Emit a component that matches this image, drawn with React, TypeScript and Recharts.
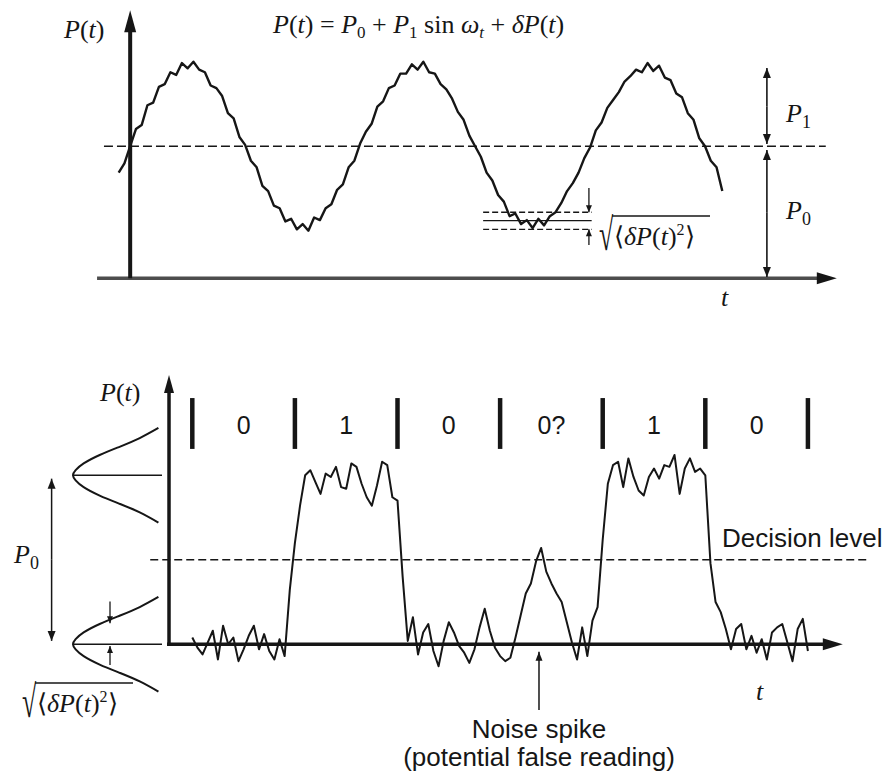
import React from 'react';
import { LineChart, Line, XAxis, YAxis, ReferenceLine, ReferenceDot } from 'recharts';

const INK = '#161616';
const SERIF = '"Liberation Serif", "Times New Roman", serif';
const SANS = '"Liberation Sans", Arial, sans-serif';

// ---- top panel: t in tenths of an oscillation period, P in units of P0
const SINE_START = -0.5;
const SINE_STEP = 0.25;
const SINE_P = [
  0.8, 0.87, 1.0, 1.13, 1.16, 1.31, 1.33, 1.45, 1.47, 1.56,
  1.54, 1.63, 1.59, 1.64, 1.58, 1.56, 1.46, 1.44, 1.38, 1.25,
  1.21, 1.07, 1.01, 0.89, 0.84, 0.7, 0.66, 0.55, 0.53, 0.43,
  0.45, 0.37, 0.41, 0.36, 0.46, 0.44, 0.53, 0.56, 0.67, 0.71,
  0.84, 0.89, 1.02, 1.11, 1.17, 1.3, 1.34, 1.44, 1.46, 1.55,
  1.55, 1.62, 1.58, 1.64, 1.56, 1.55, 1.47, 1.43, 1.36, 1.26,
  1.2, 1.08, 1.0, 0.92, 0.8, 0.74, 0.63, 0.58, 0.47, 0.49,
  0.41, 0.44, 0.38, 0.45, 0.4, 0.47, 0.5, 0.57, 0.66, 0.72,
  0.8, 0.91, 0.99, 1.12, 1.18, 1.29, 1.35, 1.41, 1.49, 1.53,
  1.58, 1.56, 1.63, 1.57, 1.61, 1.52, 1.5, 1.4, 1.37, 1.25,
  1.2, 1.06, 1.0, 0.89, 0.84, 0.66,
];
const MEAN_LEVEL = 1;
const BAND_LOW = 0.37;
const BAND_MID = 0.436;
const BAND_HIGH = 0.5;

// ---- bottom panel: t in bit slots, P in units of P0
const BIT_STEP = 0.05;
const BIT_P = [
  0.04, -0.02, -0.06, 0.01, 0.08, -0.09, 0.11, 0.0, 0.04, -0.1,
  -0.03, 0.05, 0.11, -0.03, 0.06, -0.04, -0.09, 0.03, -0.07, 0.32,
  0.6, 0.82, 1.0, 1.03, 0.96, 0.89, 1.01, 0.99, 1.05, 0.93,
  0.92, 1.07, 1.05, 0.95, 0.87, 0.82, 0.94, 1.08, 1.06, 0.87,
  0.85, 0.4, 0.02, 0.16, -0.06, 0.07, 0.12, -0.04, -0.13, 0.02,
  0.13, 0.07, -0.01, -0.05, -0.11, -0.03, 0.1, 0.21, 0.08, -0.02,
  -0.07, -0.1, -0.08, 0.04, 0.17, 0.3, 0.36, 0.49, 0.57, 0.43,
  0.36, 0.3, 0.25, 0.13, 0.01, -0.09, 0.1, -0.07, 0.14, 0.22,
  0.62, 0.95, 1.06, 1.08, 0.93, 1.1, 0.99, 0.91, 0.88, 0.99,
  1.04, 0.98, 1.06, 1.05, 1.12, 0.89, 1.04, 1.1, 1.02, 1.04,
  1.0, 0.48, 0.25, 0.19, 0.09, -0.03, 0.09, 0.12, -0.03, 0.05,
  -0.05, 0.03, -0.09, 0.07, 0.1, 0.12, 0.01, -0.1, 0.09, 0.15,
  -0.04,
];
const BIT_EDGES = [0, 1, 2, 3, 4, 5, 6];
const BIT_LABELS = ['0', '1', '0', '0?', '1', '0'];
const DECISION_LEVEL = 0.5;
const HIGH_LEVEL = 1;
const LOW_LEVEL = 0;
const GAUSS_OFFSET = [0.28, 0.22, 0.17, 0.12, 0.07, 0.03, 0, -0.03, -0.07, -0.12, -0.17, -0.22, -0.28];
const GAUSS_DENSITY = [0.04, 0.25, 0.47, 0.7, 0.88, 0.97, 1, 0.97, 0.88, 0.7, 0.47, 0.25, 0.04];

const sineData = SINE_P.map((p, i) => ({ t: SINE_START + i * SINE_STEP, p }));
const bitData = BIT_P.map((p, i) => ({ t: i * BIT_STEP, p }));
const gaussAt = (level: number) => GAUSS_OFFSET.map((o, i) => ({ d: GAUSS_DENSITY[i], p: level + o }));

type Dir = 'up' | 'down' | 'left' | 'right';

function arrowHead(dir: Dir, len: number, half: number) {
  return function ArrowHeadShape(props: any) {
    const { cx, cy } = props;
    let pts: number[][];
    if (dir === 'up') pts = [[cx, cy], [cx - half, cy + len], [cx + half, cy + len]];
    else if (dir === 'down') pts = [[cx, cy], [cx - half, cy - len], [cx + half, cy - len]];
    else if (dir === 'right') pts = [[cx, cy], [cx - len, cy - half], [cx - len, cy + half]];
    else pts = [[cx, cy], [cx + len, cy - half], [cx + len, cy + half]];
    return <polygon points={pts.map((p) => p.join(',')).join(' ')} fill={INK} />;
  };
}

// vertical arrow drawn with a reference segment and a head dot
function vArrow(key: string, x: number, from: number, tip: number, width = 1.5, len = 9, half = 3.5) {
  const dir: Dir = tip > from ? 'up' : 'down';
  return [
    <ReferenceLine key={key + '-l'} segment={[{ x, y: from }, { x, y: tip }]} stroke={INK} strokeWidth={width} />,
    <ReferenceDot key={key + '-h'} x={x} y={tip} r={1} shape={arrowHead(dir, len, half)} />,
  ];
}

function bitLabel(text: string) {
  return function BitLabelShape(props: any) {
    return (
      <text x={props.cx} y={props.cy + 9} textAnchor="middle" fontFamily={SANS} fontSize={25} fill={INK}>
        {text}
      </text>
    );
  };
}

const noMargin = { top: 0, right: 0, bottom: 0, left: 0 };

function TopPanel() {
  return (
    <div style={{ position: 'absolute', left: 6, top: 1 }}>
      <LineChart width={883} height={330} margin={noMargin}>
        <XAxis type="number" dataKey="t" domain={[-5.4, 33]} allowDataOverflow hide />
        <YAxis type="number" domain={[-0.4, 2.1]} allowDataOverflow hide />
        <ReferenceLine segment={[{ x: -1.44, y: 0 }, { x: 30.1, y: 0 }]} stroke="#4d4d4d" strokeWidth={3.5} />
        <ReferenceDot x={30.73} y={0} r={1} shape={arrowHead('right', 20, 6)} />
        <ReferenceLine segment={[{ x: 0, y: 0 }, { x: 0, y: 1.9 }]} stroke={INK} strokeWidth={4} />
        <ReferenceDot x={0} y={2.03} r={1} shape={arrowHead('up', 22, 6)} />
        <ReferenceLine segment={[{ x: -1.14, y: MEAN_LEVEL }, { x: 30.25, y: MEAN_LEVEL }]} stroke={INK} strokeWidth={1.6} strokeDasharray="9 4" />
        <ReferenceLine segment={[{ x: 15.35, y: BAND_HIGH }, { x: 20.07, y: BAND_HIGH }]} stroke={INK} strokeWidth={1.4} strokeDasharray="6 3" />
        <ReferenceLine segment={[{ x: 15.35, y: BAND_MID }, { x: 20.07, y: BAND_MID }]} stroke={INK} strokeWidth={1.4} />
        <ReferenceLine segment={[{ x: 15.35, y: BAND_LOW }, { x: 20.07, y: BAND_LOW }]} stroke={INK} strokeWidth={1.4} strokeDasharray="6 3" />
        {vArrow('band-d', 19.95, 0.683, BAND_HIGH, 1.3, 7, 3)}
        {vArrow('band-u', 19.95, 0.252, BAND_LOW, 1.3, 7, 3)}
        {vArrow('p1-u', 27.69, 1.3, 1.592, 1.6, 10, 4)}
        {vArrow('p1-d', 27.69, 1.3, 1.017, 1.6, 10, 4)}
        {vArrow('p0-u', 27.69, 0.5, 0.971, 1.6, 10, 4)}
        {vArrow('p0-d', 27.69, 0.5, 0.009, 1.6, 10, 4)}
        <Line
          data={sineData}
          dataKey="p"
          type="linear"
          stroke={INK}
          strokeWidth={2.4}
          strokeLinejoin="round"
          dot={false}
          isAnimationActive={false}
        />
      </LineChart>
    </div>
  );
}

function BottomPanel() {
  return (
    <div style={{ position: 'absolute', left: 141, top: 357 }}>
      <LineChart width={749} height={414} margin={noMargin}>
        <XAxis type="number" dataKey="t" domain={[-0.5, 6.8]} allowDataOverflow hide />
        <YAxis type="number" domain={[-0.75, 1.7]} allowDataOverflow hide />
        <ReferenceLine segment={[{ x: -0.41, y: DECISION_LEVEL }, { x: 6.6, y: DECISION_LEVEL }]} stroke={INK} strokeWidth={1.4} strokeDasharray="8 4" />
        <ReferenceLine segment={[{ x: -0.246, y: LOW_LEVEL }, { x: 6.2, y: LOW_LEVEL }]} stroke={INK} strokeWidth={3.5} />
        <ReferenceDot x={6.34} y={LOW_LEVEL} r={1} shape={arrowHead('right', 20, 6)} />
        <ReferenceLine segment={[{ x: -0.227, y: -0.01 }, { x: -0.227, y: 1.5 }]} stroke={INK} strokeWidth={3.5} />
        <ReferenceDot x={-0.227} y={1.594} r={1} shape={arrowHead('up', 18, 5)} />
        {BIT_EDGES.map((e) => (
          <ReferenceLine key={'edge-' + e} segment={[{ x: e, y: 1.156 }, { x: e, y: 1.457 }]} stroke={INK} strokeWidth={4.5} />
        ))}
        {BIT_LABELS.map((b, i) => (
          <ReferenceDot key={'bit-' + i} x={BIT_EDGES[i] + 0.5} y={1.3} r={1} shape={bitLabel(b)} />
        ))}
        {vArrow('spike', 3.379, -0.389, -0.045, 1.5, 9, 3.5)}
        <Line
          data={bitData}
          dataKey="p"
          type="linear"
          stroke={INK}
          strokeWidth={2}
          strokeLinejoin="round"
          dot={false}
          isAnimationActive={false}
        />
      </LineChart>
    </div>
  );
}

function DistributionPanel() {
  return (
    <div style={{ position: 'absolute', left: 16, top: 357 }}>
      <LineChart width={154} height={414} margin={noMargin}>
        <XAxis type="number" dataKey="d" domain={[-0.09, 1.64]} reversed allowDataOverflow hide />
        <YAxis type="number" domain={[-0.75, 1.7]} allowDataOverflow hide />
        <ReferenceLine segment={[{ x: 1, y: HIGH_LEVEL }, { x: 0, y: HIGH_LEVEL }]} stroke={INK} strokeWidth={1.5} />
        <ReferenceLine segment={[{ x: 1, y: LOW_LEVEL }, { x: 0, y: LOW_LEVEL }]} stroke={INK} strokeWidth={1.5} />
        {vArrow('P0-u', 1.24, 0.5, 0.98, 1.5, 10, 4)}
        {vArrow('P0-d', 1.24, 0.5, 0.02, 1.5, 10, 4)}
        {vArrow('sig-d', 0.584, 0.253, 0.124, 1.3, 7, 3)}
        {vArrow('sig-u', 0.584, -0.122, -0.01, 1.3, 7, 3)}
        <Line data={gaussAt(HIGH_LEVEL)} dataKey="p" type="natural" stroke={INK} strokeWidth={2} dot={false} isAnimationActive={false} />
        <Line data={gaussAt(LOW_LEVEL)} dataKey="p" type="natural" stroke={INK} strokeWidth={2} dot={false} isAnimationActive={false} />
      </LineChart>
    </div>
  );
}

// root-mean-square noise label: tall radical sign, overline and bracketed term
function RmsLabel({ x, y }: { x: number; y: number }) {
  const it = { fontStyle: 'italic' as const };
  return (
    <g>
      <text transform={`translate(${x},${y + 5}) scale(1,1.75)`} fontSize={26}>√</text>
      <line x1={x + 13} y1={y - 29} x2={x + 111} y2={y - 29} stroke={INK} strokeWidth={1.5} />
      <text x={x + 15} y={y}>
        ⟨<tspan {...it}>δP</tspan>(<tspan {...it}>t</tspan>)<tspan fontSize={16} dy={-10}>2</tspan>
        <tspan dy={10}>⟩</tspan>
      </text>
    </g>
  );
}

function Annotations() {
  const it = { fontStyle: 'italic' as const };
  return (
    <svg width={891} height={776} style={{ position: 'absolute', left: 0, top: 0, pointerEvents: 'none' }}>
      <g fontFamily={SERIF} fontSize={26} fill={INK}>
        {/* top panel */}
        <text x={64} y={38}>
          <tspan {...it}>P</tspan>(<tspan {...it}>t</tspan>)
        </text>
        <text x={273} y={33} fontSize={26}>
          <tspan {...it}>P</tspan>(<tspan {...it}>t</tspan>){' = '}<tspan {...it}>P</tspan>
          <tspan fontSize={17} dy={5}>0</tspan>
          <tspan dy={-5}>{' + '}</tspan>
          <tspan {...it}>P</tspan>
          <tspan fontSize={17} dy={5}>1</tspan>
          <tspan dy={-5}>{' sin '}</tspan>
          <tspan {...it}>ω</tspan>
          <tspan {...it} fontSize={17} dy={5}>t</tspan>
          <tspan dy={-5}>{' + '}</tspan>
          <tspan {...it}>δP</tspan>(<tspan {...it}>t</tspan>)
        </text>
        <text x={786} y={122}>
          <tspan {...it}>P</tspan>
          <tspan fontSize={18} dy={6}>1</tspan>
        </text>
        <text x={786} y={219}>
          <tspan {...it}>P</tspan>
          <tspan fontSize={18} dy={6}>0</tspan>
        </text>
        <RmsLabel x={599} y={245} />
        <text x={721} y={306} {...it}>t</text>

        {/* bottom panel */}
        <text x={100} y={401}>
          <tspan {...it}>P</tspan>(<tspan {...it}>t</tspan>)
        </text>
        <text x={14} y={563}>
          <tspan {...it}>P</tspan>
          <tspan fontSize={18} dy={6}>0</tspan>
        </text>
        <RmsLabel x={22} y={712} />
        <text x={756} y={700} {...it}>t</text>
      </g>
      <g fontFamily={SANS} fontSize={26} fill={INK}>
        <text x={722} y={547}>Decision level</text>
        <text x={539} y={738} textAnchor="middle">Noise spike</text>
        <text x={539} y={766} textAnchor="middle">(potential false reading)</text>
      </g>
    </svg>
  );
}

export default function App() {
  return (
    <div style={{ position: 'absolute', left: 0, top: 0, width: 891, height: 776, background: '#fff' }}>
      <TopPanel />
      <DistributionPanel />
      <BottomPanel />
      <Annotations />
    </div>
  );
}
